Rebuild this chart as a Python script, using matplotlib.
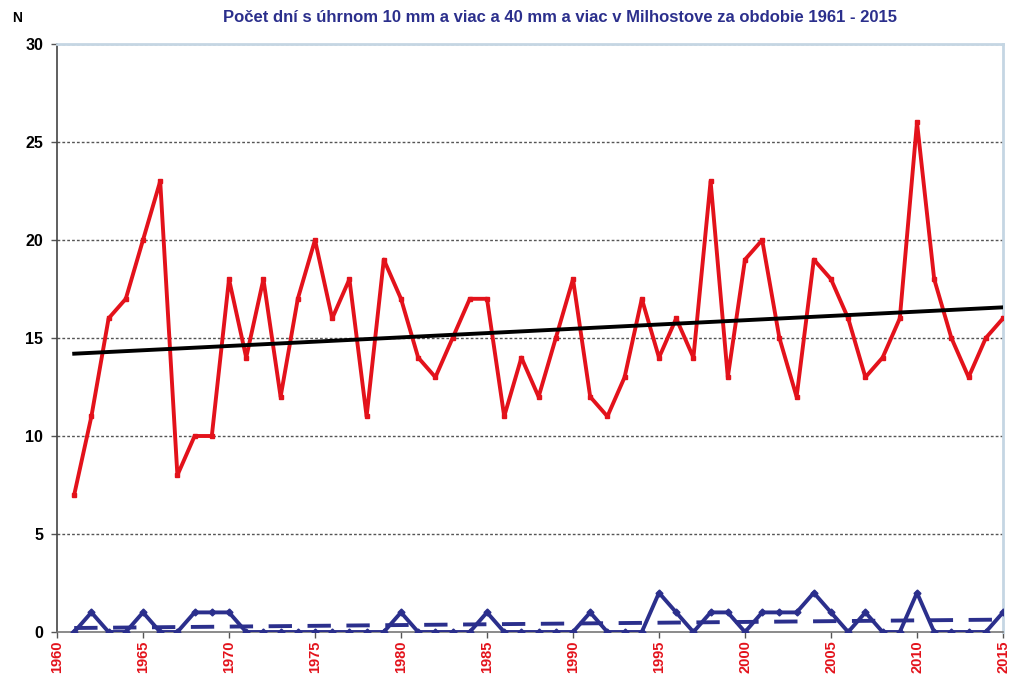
import numpy as np
import matplotlib
matplotlib.use("Agg")
import matplotlib.pyplot as plt

years = list(range(1961, 2016))

# days with precipitation >= 10 mm
days_10mm = [7, 11, 16, 17, 20, 23, 8, 10, 10, 18,
             14, 18, 12, 17, 20, 16, 18, 11, 19, 17,
             14, 13, 15, 17, 17, 11, 14, 12, 15, 18,
             12, 11, 13, 17, 14, 16, 14, 23, 13, 19,
             20, 15, 12, 19, 18, 16, 13, 14, 16, 26,
             18, 15, 13, 15, 16]

# days with precipitation >= 40 mm
days_40mm = [0, 1, 0, 0, 1, 0, 0, 1, 1, 1,
             0, 0, 0, 0, 0, 0, 0, 0, 0, 1,
             0, 0, 0, 0, 1, 0, 0, 0, 0, 0,
             1, 0, 0, 0, 2, 1, 0, 1, 1, 0,
             1, 1, 1, 2, 1, 0, 1, 0, 0, 2,
             0, 0, 0, 0, 1]

title = "Počet dní s úhrnom 10 mm a viac a 40 mm a viac v Milhostove za obdobie 1961 - 2015"

RED = "#E3121B"
NAVY = "#2B2F8C"
FONT = ["Liberation Sans Narrow", "Liberation Sans", "DejaVu Sans"]

plt.rcParams["font.family"] = FONT

fig = plt.figure(figsize=(10.12, 6.82), dpi=100)
ax = fig.add_axes([57 / 1012, 1 - 632 / 682, (1003 - 57) / 1012, (632 - 44) / 682])

x = np.array(years)
y10 = np.array(days_10mm)
y40 = np.array(days_40mm)

for v in range(5, 31, 5):
    ax.axhline(v, color="#555555", lw=1.0, ls=(0, (2, 1.5)), zorder=1)

ax.plot(x, y10, color=RED, lw=2.8, marker="s", ms=3.5, zorder=3)
ax.plot(x, y40, color=NAVY, lw=2.8, marker="D", ms=3.5, zorder=3)

# linear trends
k, b = np.polyfit(x, y10, 1)
ax.plot(x, k * x + b, color="black", lw=2.8, zorder=4)
k, b = np.polyfit(x, y40, 1)
ax.plot(x, k * x + b, color=NAVY, lw=2.8, ls=(0, (6, 4)), zorder=2)

ax.set_xlim(1960, 2015)
ax.set_ylim(0, 30)
ax.set_xticks(range(1960, 2016, 5))
ax.set_yticks(range(0, 31, 5))

for lbl in ax.get_xticklabels():
    lbl.set_rotation(90)
    lbl.set_color(RED)
    lbl.set_fontweight("bold")
    lbl.set_fontsize(10.5)
for lbl in ax.get_yticklabels():
    lbl.set_fontweight("bold")
    lbl.set_fontsize(11.5)

ax.tick_params(axis="x", length=4, width=1, color="#555555", pad=2)
ax.tick_params(axis="y", length=4, width=1, color="#555555", pad=6)

ax.spines["left"].set_color("#444444")
ax.spines["left"].set_linewidth(1.2)
ax.spines["bottom"].set_color("#777777")
ax.spines["bottom"].set_linewidth(1.2)
ax.spines["top"].set_color("#C5D6E3")
ax.spines["top"].set_linewidth(2)
ax.spines["right"].set_color("#C5D6E3")
ax.spines["right"].set_linewidth(2)

fig.text(12 / 1012, 1 - 18 / 682, "N", fontsize=10, fontweight="bold", ha="left", va="center")
fig.text(560 / 1012, 1 - 17 / 682, title, fontsize=12, fontweight="bold", color=NAVY,
         ha="center", va="center")

fig.savefig("out.png", dpi=100)
